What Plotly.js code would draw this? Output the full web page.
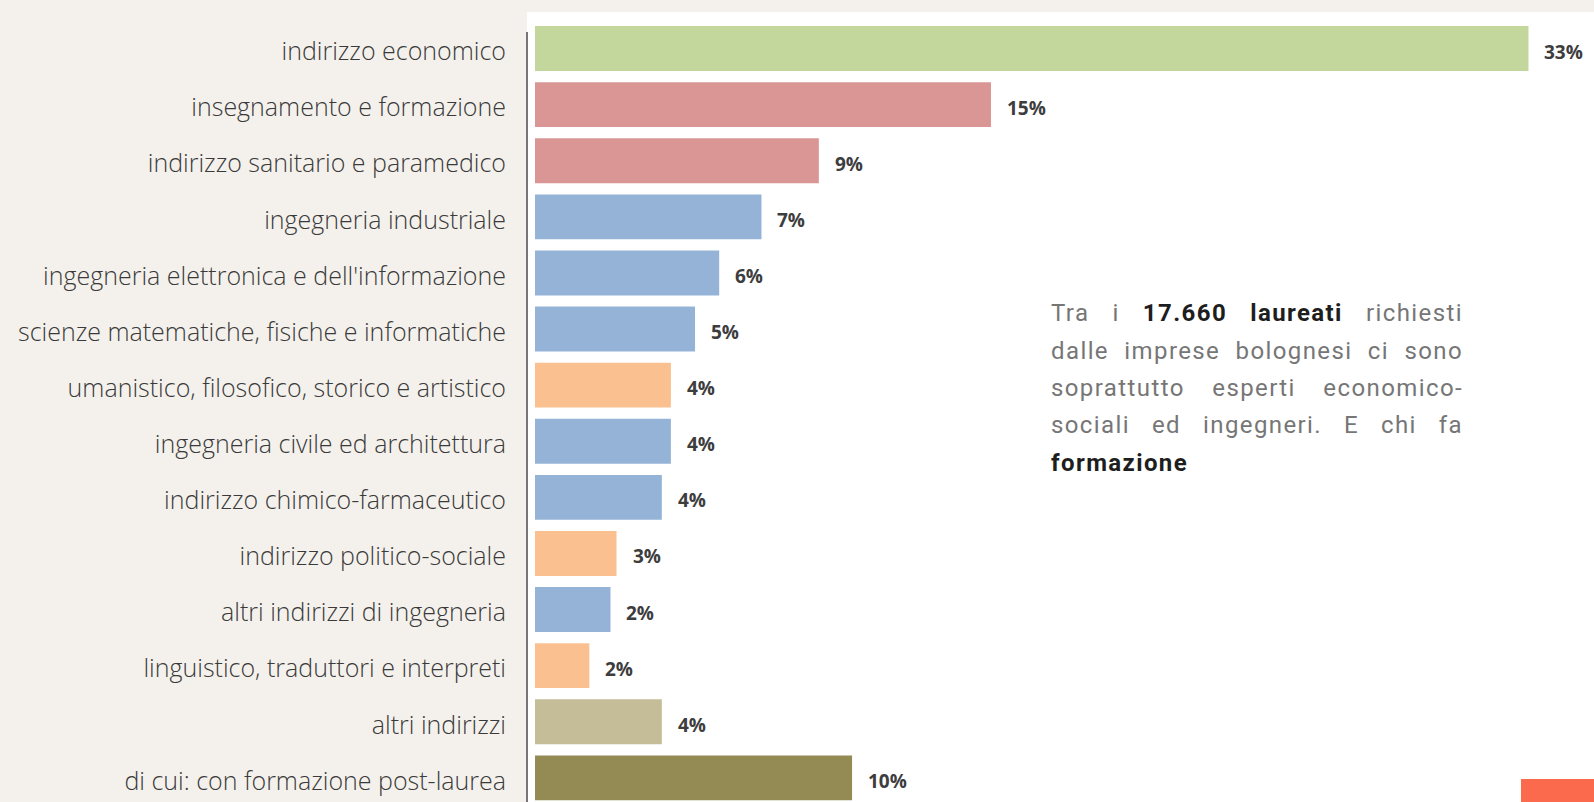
<!DOCTYPE html>
<html>
<head>
<meta charset="utf-8">
<script src="https://cdn.plot.ly/plotly-3.0.1.min.js"></script>
<style>
  html, body { margin: 0; padding: 0; background: #f4f1ec; }
  #chart { width: 1594px; height: 802px; }
</style>
</head>
<body>
<div id="chart"></div>
<script>
// ---- data ----
const categories = [
  "indirizzo economico",
  "insegnamento e formazione",
  "indirizzo sanitario e paramedico",
  "ingegneria industriale",
  "ingegneria elettronica e dell'informazione",
  "scienze matematiche, fisiche e informatiche",
  "umanistico, filosofico, storico e artistico",
  "ingegneria civile ed architettura",
  "indirizzo chimico-farmaceutico",
  "indirizzo politico-sociale",
  "altri indirizzi di ingegneria",
  "linguistico, traduttori e interpreti",
  "altri indirizzi",
  "di cui: con formazione post-laurea"
];
const shares = [32.9, 15.1, 9.4, 7.5, 6.1, 5.3, 4.5, 4.5, 4.2, 2.7, 2.5, 1.8, 4.2, 10.5];
const shareLabels = ["33%", "15%", "9%", "7%", "6%", "5%", "4%", "4%", "4%", "3%", "2%", "2%", "4%", "10%"];
const noteLines = [
  "Tra i <b>17.660 laureati</b> richiesti",
  "dalle imprese bolognesi ci sono",
  "soprattutto esperti economico-",
  "sociali ed ingegneri. E chi fa",
  "<b>formazione</b>"
];

// ---- styles ----
const barColors = [
  "#c3d69b", "#d99694", "#d99694", "#95b3d7", "#95b3d7", "#95b3d7", "#fac090",
  "#95b3d7", "#95b3d7", "#fac090", "#95b3d7", "#fac090", "#c4bd97", "#948a54"
];
const noteY = [0.619, 0.5715, 0.524, 0.4766, 0.4291];

const trace = {
  type: "bar",
  orientation: "h",
  x: shares,
  y: categories,
  marker: { color: barColors, line: { width: 0 } },
  hoverinfo: "skip"
};

const annotations = [];
shares.forEach((v, i) => {
  annotations.push({
    x: v, y: categories[i], xref: "x", yref: "y",
    text: shareLabels[i], showarrow: false,
    xanchor: "left", yanchor: "middle", xshift: 14, yshift: -3,
    font: { family: "Open Sans", size: 19, weight: 700, color: "#3d3d3d" }
  });
});
noteLines.forEach((t, i) => {
  annotations.push({
    x: 0.4892, y: noteY[i], xref: "paper", yref: "paper",
    text: t, showarrow: false, align: "left",
    xanchor: "left", yanchor: "middle",
    font: { family: "Roboto", size: 24, weight: 400, color: "#767676" }
  });
});

const layout = {
  width: 1594, height: 802,
  margin: { l: 527, r: 0, t: 12, b: 0, pad: 0 },
  paper_bgcolor: "#f4f1ec",
  plot_bgcolor: "#ffffff",
  bargap: 0.2,
  showlegend: false,
  xaxis: {
    range: [-0.265, 35.07], visible: false, fixedrange: true
  },
  yaxis: {
    type: "category", categoryorder: "array", categoryarray: categories,
    range: [13.43, -0.651],
    showgrid: false, zeroline: false, showline: false, ticks: "",
    ticklabelstandoff: 20,
    ticklabelshift: -3,
    tickfont: { family: "Open Sans", size: 25, weight: 300, color: "#3a3a3a" },
    fixedrange: true
  },
  shapes: [
    { type: "line", xref: "paper", yref: "paper", x0: 0, x1: 0, y0: 0, y1: 0.9747,
      line: { color: "#4a4a4a", width: 1.5 } },
    { type: "rect", xref: "paper", yref: "paper", x0: 0.9316, x1: 1.01, y0: -0.01, y1: 0.0291,
      fillcolor: "#fb6a4d", line: { width: 0 } }
  ],
  annotations: annotations
};

Plotly.newPlot("chart", [trace], layout, { displayModeBar: false, staticPlot: true }).then(gd => {
  const targetWidth = 412;
  const groups = gd.querySelectorAll("g.annotation");
  groups.forEach(g => {
    const idx = parseInt(g.getAttribute("data-index"), 10);
    const lineIdx = idx - shares.length;
    if (lineIdx < 0) return;
    const txt = g.querySelector("text.annotation-text");
    if (!txt) return;
    txt.style.letterSpacing = "1.4px";
    if (lineIdx < noteLines.length - 1) {
      const natural = txt.getComputedTextLength();
      const nSpaces = (txt.textContent.match(/ /g) || []).length;
      if (nSpaces > 0) {
        const ws = (targetWidth - natural) / nSpaces;
        txt.style.wordSpacing = ws + "px";
      }
    }
    txt.querySelectorAll("tspan").forEach(ts => {
      const st = ts.getAttribute("style") || "";
      if (st.indexOf("bold") >= 0) {
        ts.style.fill = "#1e1e1e";
      }
    });
  });
});
</script>
</body>
</html>
